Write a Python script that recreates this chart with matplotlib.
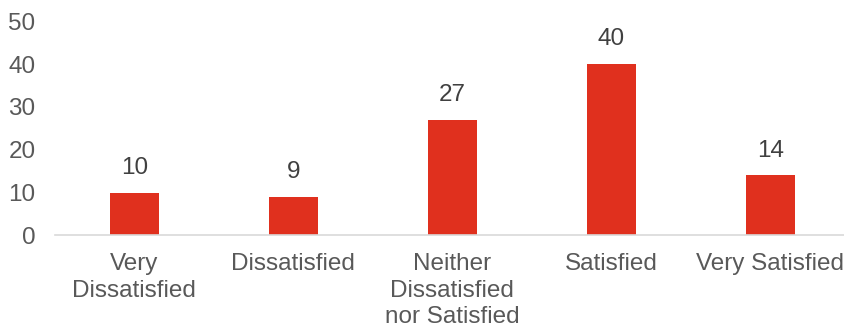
import matplotlib.pyplot as plt

categories = ['Very\nDissatisfied', 'Dissatisfied', 'Neither\nDissatisfied\nnor Satisfied',
              'Satisfied', 'Very Satisfied']
values = [10, 9, 27, 40, 14]

plt.rcParams['font.family'] = ['Liberation Sans', 'DejaVu Sans']
text_color = '#595959'
fs = 17.5

fig = plt.figure(figsize=(8.44, 3.27), dpi=100)
ax = fig.add_axes([0.065, 0.28, 0.942, 0.655])

x = range(len(categories))
bars = ax.bar(x, values, width=0.31, color='#E0301E', zorder=2)

# value labels above each bar
for b, v in zip(bars, values):
    ax.text(b.get_x() + b.get_width() / 2, v + 3.2, str(v),
            ha='center', va='bottom', fontsize=fs, color='#404040')

ax.set_xlim(-0.5, 4.5)
ax.set_ylim(0, 50)
ax.set_yticks(range(0, 51, 10))
ax.set_xticks(list(x))
ax.set_xticklabels(categories, fontsize=fs, color=text_color, linespacing=1.25)
ax.tick_params(axis='y', length=0, pad=14, labelsize=fs, labelcolor=text_color)
ax.tick_params(axis='x', length=0, pad=13)

for side in ['top', 'right', 'left']:
    ax.spines[side].set_visible(False)
ax.spines['bottom'].set_color('#D9D9D9')
ax.spines['bottom'].set_linewidth(1.2)

fig.savefig('out.png', dpi=100)
